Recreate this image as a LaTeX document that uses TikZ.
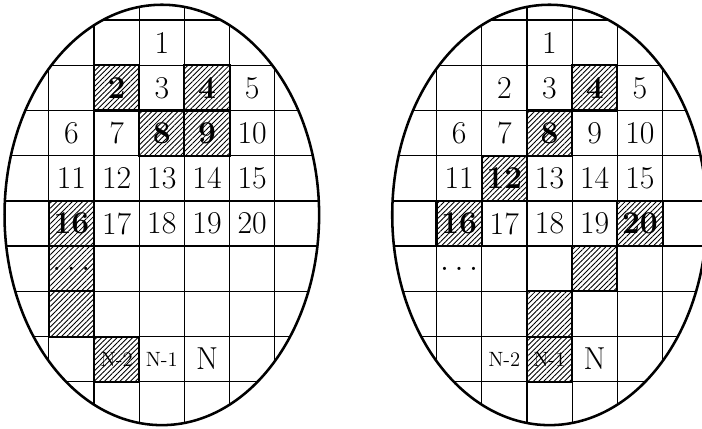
\documentclass[tikz,border=0pt]{standalone}
\usepackage{fontspec}
\usetikzlibrary{patterns.meta}
\begin{document}
\begin{tikzpicture}[every node/.style={font=\fontsize{20}{24}\selectfont},
                    gridline/.style={line width=0.8pt},
                    wafer/.style={line width=1.6pt},
                    hatchcell/.style={draw, line width=1.3pt,
                                      pattern={Lines[angle=45, distance=2.3pt, line width=0.55pt]},
                                      minimum size=1cm, inner sep=0pt, font=\fontsize{20}{24}\selectfont\bfseries},
                    smalltext/.style={font=\fontsize{13}{15}\selectfont}]
    \useasboundingbox (0,0) rectangle (15.53,9.49);

    % left wafer
    \begin{scope}[shift={(3.58,4.735)}]
        \begin{scope}
            \clip (0,0) ellipse (3.48 and 4.65);
            \foreach \x in {-2.5,-1.5,...,2.5} \draw[gridline] (\x,-5) -- (\x,5);
            \foreach \k in {-4,...,4} \draw[gridline] (-4,\k+0.31) -- (4,\k+0.31);
        \end{scope}

        \node (l1) at (0,3.81) {1};
        \node[hatchcell] (l2) at (-1,2.81) {2};
        \node (l3) at (0,2.81) {3};
        \node[hatchcell] (l4) at (1,2.81) {4};
        \node (l5) at (2,2.81) {5};
        \node (l6) at (-2,1.81) {6};
        \node (l7) at (-1,1.81) {7};
        \node[hatchcell] (l8) at (0,1.81) {8};
        \node[hatchcell] (l9) at (1,1.81) {9};
        \node (l10) at (2,1.81) {10};
        \node (l11) at (-2,0.81) {11};
        \node (l12) at (-1,0.81) {12};
        \node (l13) at (0,0.81) {13};
        \node (l14) at (1,0.81) {14};
        \node (l15) at (2,0.81) {15};
        \node[hatchcell] (l16) at (-2,-0.19) {16};
        \node (l17) at (-1,-0.19) {17};
        \node (l18) at (0,-0.19) {18};
        \node (l19) at (1,-0.19) {19};
        \node (l20) at (2,-0.19) {20};
        \node[hatchcell] (ldots) at (-2,-1.19) {$\ldots$};
        \node[hatchcell] (lgap) at (-2,-2.19) {};
        \node[hatchcell, smalltext] (lN2) at (-1,-3.19) {N-2};
        \node[smalltext] (lN1) at (0,-3.19) {N-1};
        \node (lN) at (1,-3.19) {N};

        \draw[wafer] (0,0) ellipse (3.48 and 4.65);
    \end{scope}

    % right wafer
    \begin{scope}[shift={(12.157,4.735)}]
        \begin{scope}
            \clip (0,0) ellipse (3.48 and 4.65);
            \foreach \x in {-2.5,-1.5,...,2.5} \draw[gridline] (\x,-5) -- (\x,5);
            \foreach \k in {-4,...,4} \draw[gridline] (-4,\k+0.31) -- (4,\k+0.31);
        \end{scope}

        \node (r1) at (0,3.81) {1};
        \node (r2) at (-1,2.81) {2};
        \node (r3) at (0,2.81) {3};
        \node[hatchcell] (r4) at (1,2.81) {4};
        \node (r5) at (2,2.81) {5};
        \node (r6) at (-2,1.81) {6};
        \node (r7) at (-1,1.81) {7};
        \node[hatchcell] (r8) at (0,1.81) {8};
        \node (r9) at (1,1.81) {9};
        \node (r10) at (2,1.81) {10};
        \node (r11) at (-2,0.81) {11};
        \node[hatchcell] (r12) at (-1,0.81) {12};
        \node (r13) at (0,0.81) {13};
        \node (r14) at (1,0.81) {14};
        \node (r15) at (2,0.81) {15};
        \node[hatchcell] (r16) at (-2,-0.19) {16};
        \node (r17) at (-1,-0.19) {17};
        \node (r18) at (0,-0.19) {18};
        \node (r19) at (1,-0.19) {19};
        \node[hatchcell] (r20) at (2,-0.19) {20};
        \node (rdots) at (-2,-1.19) {$\ldots$};
        \node[hatchcell] (rgapa) at (1,-1.19) {};
        \node[hatchcell] (rgapb) at (0,-2.19) {};
        \node[smalltext] (rN2) at (-1,-3.19) {N-2};
        \node[hatchcell, smalltext] (rN1) at (0,-3.19) {N-1};
        \node (rN) at (1,-3.19) {N};

        \draw[wafer] (0,0) ellipse (3.48 and 4.65);
    \end{scope}
\end{tikzpicture}
\end{document}
